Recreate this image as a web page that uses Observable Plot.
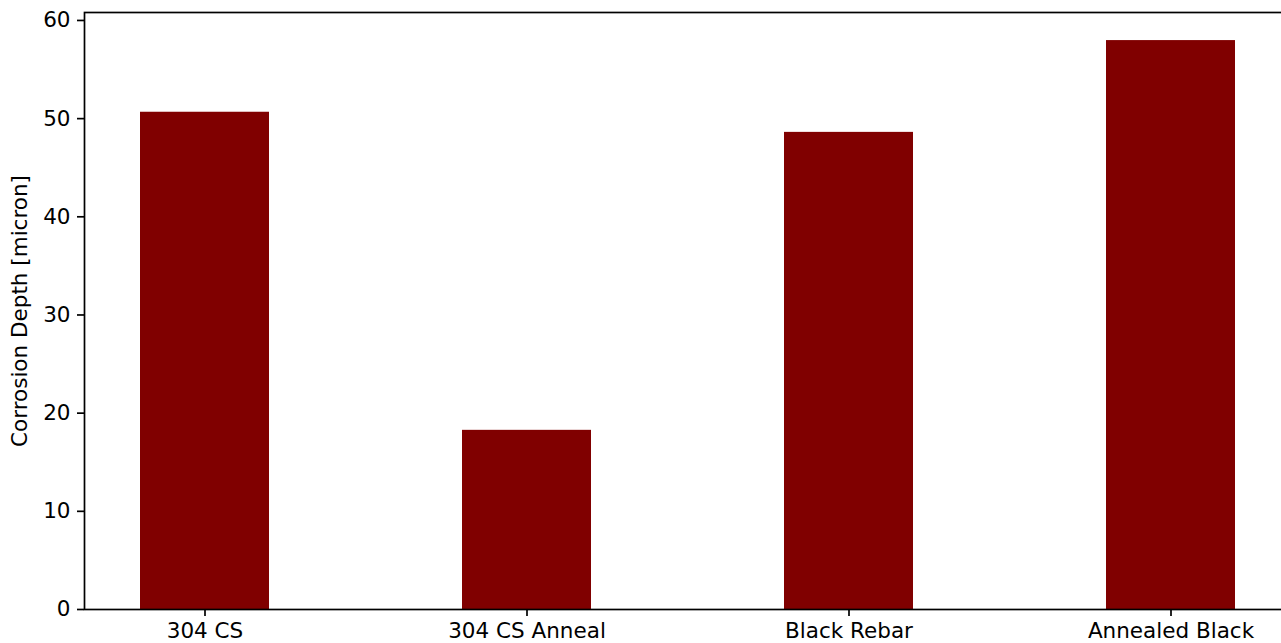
<!DOCTYPE html>
<html>
<head>
<meta charset="utf-8">
<script src="https://cdn.jsdelivr.net/npm/d3@7"></script>
<script src="https://cdn.jsdelivr.net/npm/@observablehq/plot@0.6"></script>
<style>
  html, body { margin: 0; padding: 0; background: #fff; overflow: hidden; }
  #chart { width: 1281px; height: 643px; overflow: hidden; }
</style>
</head>
<body>
<div id="chart"></div>
<script>
// Measured corrosion depth per sample type
const materials = ["304 CS", "304 CS Anneal", "Black Rebar", "Annealed Black"];
const depths = [50.65, 18.25, 48.6, 57.95];
const yTicks = [0, 10, 20, 30, 40, 50, 60];
const yLabel = "Corrosion Depth [micron]";
const yMax = 60.81;

const rows = materials.map((material, i) => ({material, depth: depths[i]}));

const FS = 21.5;

const chart = Plot.plot({
  width: 1290,
  height: 643,
  marginLeft: 84,
  marginRight: 0,
  marginTop: 12,
  marginBottom: 34,
  style: {
    fontFamily: "'DejaVu Sans', sans-serif",
    fontSize: FS + "px",
    color: "#000",
    background: "#fff",
    maxWidth: "none"
  },
  x: {type: "band", domain: materials, paddingInner: 0.6, paddingOuter: 0.172, align: 0.5},
  y: {domain: [0, yMax]},
  marks: [
    Plot.barY(rows, {x: "material", y: "depth", fill: "#800000"}),
    Plot.frame({stroke: "#000", strokeWidth: 1.7}),
    Plot.axisY({ticks: yTicks, tickSize: 7, tickPadding: 7, strokeWidth: 1.7, label: null, fontSize: FS}),
    Plot.axisX({tickSize: 7, tickPadding: 6, strokeWidth: 1.7, label: null, fontSize: FS}),
    Plot.text([yLabel], {text: d => d, frameAnchor: "left", dx: -64, rotate: -90, textAnchor: "middle", lineAnchor: "middle", fontSize: FS, fill: "#000"})
  ]
});

document.getElementById("chart").appendChild(chart);
</script>
</body>
</html>
